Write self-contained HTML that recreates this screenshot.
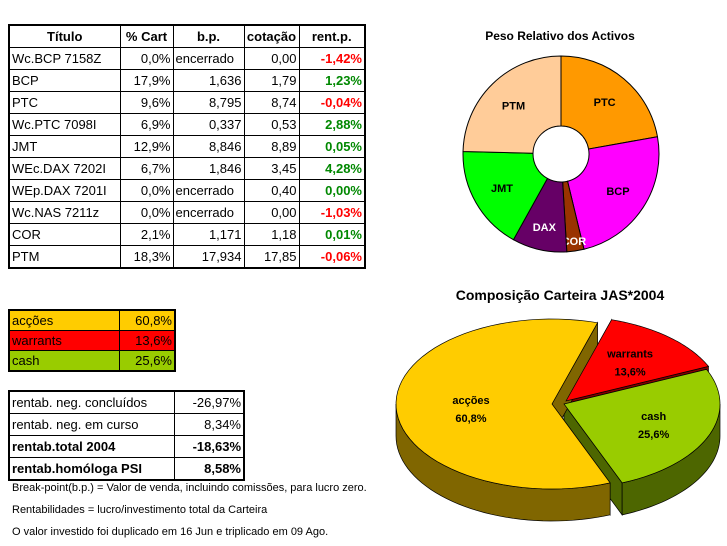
<!DOCTYPE html>
<html><head><meta charset="utf-8"><style>
body{margin:0;width:727px;height:546px;background:#fff;position:relative;overflow:hidden;font-family:"Liberation Sans",sans-serif;}
table{border-collapse:collapse;table-layout:fixed;position:absolute;font-size:13px;}
td{border:1px solid #000;padding:0 2px;white-space:nowrap;overflow:hidden;height:21px;line-height:20px;}
.r{text-align:right}.c{text-align:center}.b{font-weight:bold}
.red{color:#f00;font-weight:bold;text-align:right}.grn{color:#080;font-weight:bold;text-align:right}
.note{position:absolute;left:12px;font-size:11px;white-space:nowrap}
</style></head><body>
<table style="left:8px;top:24px;width:356px;border:2px solid #000">
<colgroup><col style="width:111px"><col style="width:53px"><col style="width:71px"><col style="width:55px"><col style="width:66px"></colgroup>
<tr class="b c"><td>Título</td><td>% Cart</td><td>b.p.</td><td>cotação</td><td>rent.p.</td></tr>
<tr><td>Wc.BCP 7158Z</td><td class="r">0,0%</td><td>encerrado</td><td class="r">0,00</td><td class="red">-1,42%</td></tr>
<tr><td>BCP</td><td class="r">17,9%</td><td class="r">1,636</td><td class="r">1,79</td><td class="grn">1,23%</td></tr>
<tr><td>PTC</td><td class="r">9,6%</td><td class="r">8,795</td><td class="r">8,74</td><td class="red">-0,04%</td></tr>
<tr><td>Wc.PTC 7098I</td><td class="r">6,9%</td><td class="r">0,337</td><td class="r">0,53</td><td class="grn">2,88%</td></tr>
<tr><td>JMT</td><td class="r">12,9%</td><td class="r">8,846</td><td class="r">8,89</td><td class="grn">0,05%</td></tr>
<tr><td>WEc.DAX 7202I</td><td class="r">6,7%</td><td class="r">1,846</td><td class="r">3,45</td><td class="grn">4,28%</td></tr>
<tr><td>WEp.DAX 7201I</td><td class="r">0,0%</td><td>encerrado</td><td class="r">0,40</td><td class="grn">0,00%</td></tr>
<tr><td>Wc.NAS 7211z</td><td class="r">0,0%</td><td>encerrado</td><td class="r">0,00</td><td class="red">-1,03%</td></tr>
<tr><td>COR</td><td class="r">2,1%</td><td class="r">1,171</td><td class="r">1,18</td><td class="grn">0,01%</td></tr>
<tr><td>PTM</td><td class="r">18,3%</td><td class="r">17,934</td><td class="r">17,85</td><td class="red">-0,06%</td></tr>
</table>

<table style="left:8px;top:309px;width:166px;border:2px solid #000">
<colgroup><col style="width:110px"><col style="width:56px"></colgroup>
<tr style="background:#FFCC00"><td style="height:19px;line-height:19px">acções</td><td class="r" style="height:19px;line-height:19px">60,8%</td></tr>
<tr style="background:#FF0000"><td style="height:19px;line-height:19px">warrants</td><td class="r" style="height:19px;line-height:19px">13,6%</td></tr>
<tr style="background:#99CC00"><td style="height:19px;line-height:19px">cash</td><td class="r" style="height:19px;line-height:19px">25,6%</td></tr>
</table>

<table style="left:8px;top:390px;width:235px;border:2px solid #000">
<colgroup><col style="width:165px"><col style="width:70px"></colgroup>
<tr><td style="height:19px">rentab. neg. concluídos</td><td class="r">-26,97%</td></tr>
<tr><td style="height:19px">rentab. neg. em curso</td><td class="r">8,34%</td></tr>
<tr class="b"><td>rentab.total 2004</td><td class="r">-18,63%</td></tr>
<tr class="b"><td>rentab.homóloga PSI</td><td class="r">8,58%</td></tr>
</table>

<div class="note" style="top:482px">Break-point(b.p.) = Valor de venda, incluindo comissões, para lucro zero.</div>
<div class="note" style="top:504px">Rentabilidades = lucro/investimento total da Carteira</div>
<div class="note" style="top:526px">O valor investido foi duplicado em 16 Jun e triplicado em 09 Ago.</div>

<svg id="charts" width="727" height="546" style="position:absolute;left:0;top:0">
<text x="560" y="40" text-anchor="middle" font-size="12" font-weight="bold" font-family="Liberation Sans, sans-serif">Peso Relativo dos Activos</text>
<text x="560" y="300" text-anchor="middle" font-size="14" font-weight="bold" font-family="Liberation Sans, sans-serif">Composição Carteira JAS*2004</text>
<g id="donut"></g><g id="pie3d"></g>
</svg>
<script>
const donutLabels=["PTC","BCP","COR","DAX","JMT","PTM"];
const donutValues=[16.5,17.9,2.1,6.7,12.9,18.3];
const donutColors=["#FF9900","#FF00FF","#993300","#660066","#00FF00","#FFCC99"];
const donutTextColors=["#000","#000","#fff","#fff","#000","#000"];
const pieLabels=["warrants","cash","acções"];
const pieValues=[13.6,25.6,60.8];
const pieTexts=["13,6%","25,6%","60,8%"];
const NS="http://www.w3.org/2000/svg";
function mk(tag,attrs,parent){const e=document.createElementNS(NS,tag);for(const k in attrs)e.setAttribute(k,attrs[k]);parent.appendChild(e);return e;}
// donut
(function(){
const g=document.getElementById('donut');const cx=561,cy=154,R=98,r=28;
const tot=donutValues.reduce((a,b)=>a+b,0);let a0=0;
const pt=(a,rad)=>[cx+rad*Math.sin(a),cy-rad*Math.cos(a)];
donutValues.forEach((v,i)=>{
 const a1=a0+v/tot*2*Math.PI;const lg=(a1-a0)>Math.PI?1:0;
 const p0=pt(a0,R),p1=pt(a1,R),q1=pt(a1,r),q0=pt(a0,r);
 const p=mk('path',{d:`M${p0}A${R},${R} 0 ${lg} 1 ${p1}L${q1}A${r},${r} 0 ${lg} 0 ${q0}Z`,fill:donutColors[i],stroke:'#000','stroke-width':1},g);
 
 
 const am=(a0+a1)/2;const lr=donutLabels[i]==="COR"?88:(donutLabels[i]==="DAX"?75:68);const lp=pt(am,lr);
 const t=mk('text',{x:lp[0],y:lp[1]+4,'text-anchor':'middle','font-size':11,'font-weight':'bold',fill:donutTextColors[i],'font-family':'Liberation Sans, sans-serif'},g);
 t.textContent=donutLabels[i];
 
 
 a0=a1;});
})();
// 3D pie
(function(){
const g=document.getElementById('pie3d');const rx=156,ry=85,D=32,cx=564,cy=404;
const tops=["#FF0000","#99CC00","#FFCC00"],sides=["#800000","#4D6600","#806600"];
const offs=[[2,-3],[0,0],[-12,0]];
const tot=pieValues.reduce((a,b)=>a+b,0);const start=17*Math.PI/180;
let a0=start;const sl=[];
pieValues.forEach((v,i)=>{const a1=a0+v/tot*2*Math.PI;sl.push([a0,a1]);a0=a1;});
const P=(i,a,dz)=>[cx+offs[i][0]+rx*Math.sin(a),cy+offs[i][1]-ry*Math.cos(a)+(dz||0)];
const C=(i,dz)=>[cx+offs[i][0],cy+offs[i][1]+(dz||0)];
// walls
sl.forEach(([a0,a1],i)=>{
 [a0,a1].forEach(a=>{const p=P(i,a),c=C(i);
  const w=mk('path',{d:`M${c}L${p}L${P(i,a,D)}L${C(i,D)}Z`,fill:sides[i],stroke:'#000','stroke-width':0.7},g);
  
  });
 // outer side: visible part between 90deg and 270deg
 const lo=Math.max(a0,Math.PI/2),hi=Math.min(a1,1.5*Math.PI);
 if(hi>lo){const n=40;let d='';for(let k=0;k<=n;k++){const a=lo+(hi-lo)*k/n;d+=(k?'L':'M')+P(i,a);}
  for(let k=n;k>=0;k--){const a=lo+(hi-lo)*k/n;d+='L'+P(i,a,D);}
  const s=mk('path',{d:d+'Z',fill:sides[i],stroke:'#000','stroke-width':0.7},g);
  
  }
});
sl.forEach(([a0,a1],i)=>{
 const n=60;let d='M'+C(i);for(let k=0;k<=n;k++){const a=a0+(a1-a0)*k/n;d+='L'+P(i,a);}
 const t=mk('path',{d:d+'Z',fill:tops[i],stroke:'#000','stroke-width':0.7},g);
 
 
 const am=(a0+a1)/2;const lp=[cx+offs[i][0]+rx*0.62*Math.sin(am),cy+offs[i][1]-ry*0.62*Math.cos(am)];
 if(i===2){lp[0]=cx-93;lp[1]=cy+4;}
 const t1=mk('text',{x:lp[0],y:lp[1]-4,'text-anchor':'middle','font-size':11,'font-weight':'bold','font-family':'Liberation Sans, sans-serif'},g);
 t1.textContent=pieLabels[i];
 
 
 const t2=mk('text',{x:lp[0],y:lp[1]+14,'text-anchor':'middle','font-size':11,'font-weight':'bold','font-family':'Liberation Sans, sans-serif'},g);
 t2.textContent=pieTexts[i];
 
 
});
})();
</script>
</body></html>
